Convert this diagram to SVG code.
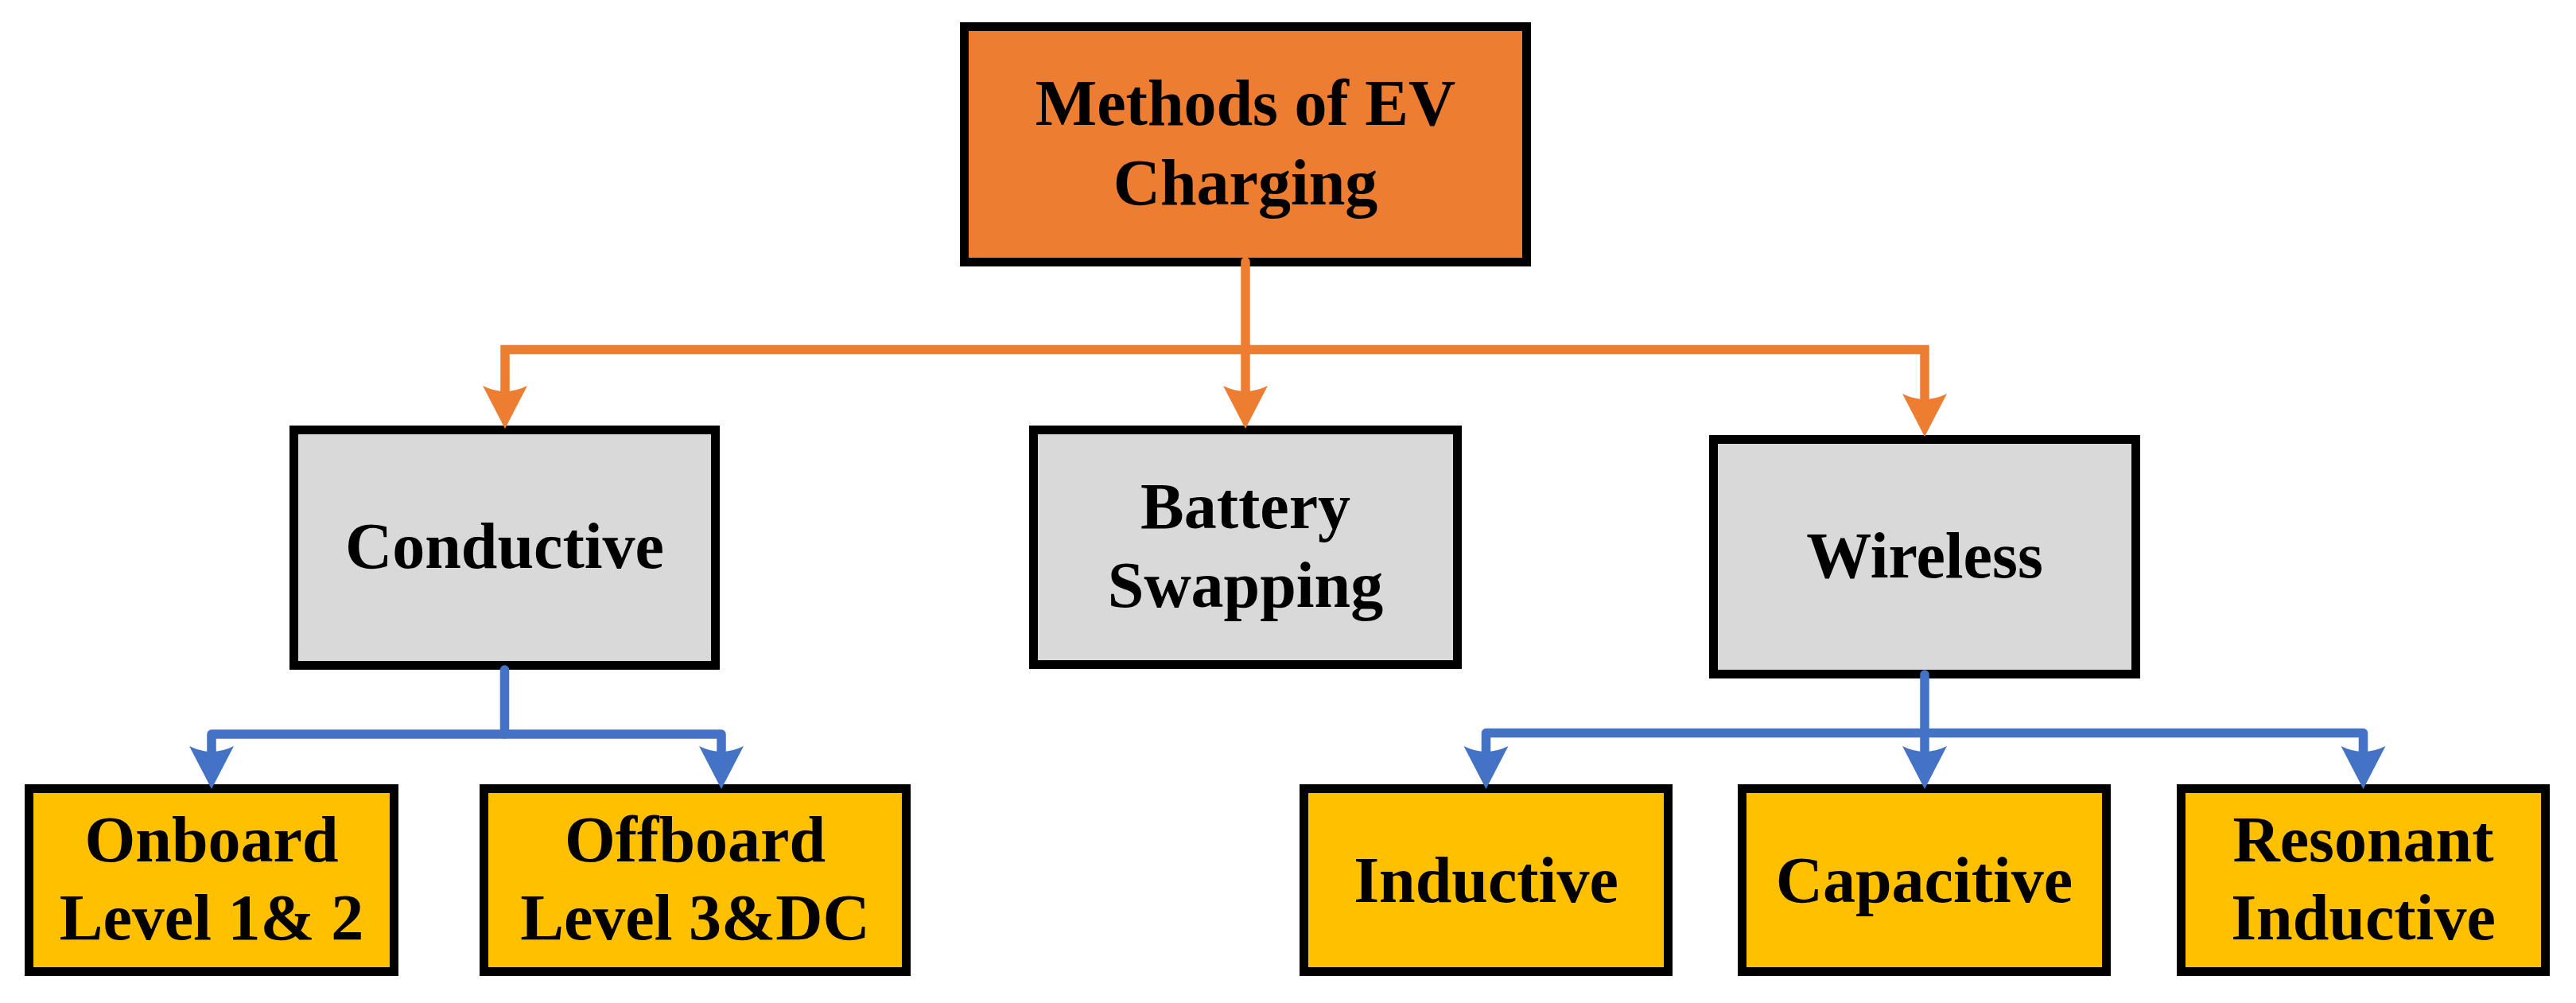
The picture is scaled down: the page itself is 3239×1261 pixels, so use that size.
<svg xmlns="http://www.w3.org/2000/svg" width="3239" height="1261" viewBox="0 0 3239 1261">
<style>
.box{stroke:#000;stroke-width:11}
.root{fill:#ED7D31}
.mid{fill:#D9D9D9}
.leaf{fill:#FFC000}
text{font-family:"Liberation Serif","Times New Roman",serif;font-weight:bold;font-size:82px;fill:#000;text-anchor:middle}
.or{fill:none;stroke:#ED7D31;stroke-width:11.5;stroke-linejoin:miter}
.bl{fill:none;stroke:#4472C4;stroke-width:11.5;stroke-linejoin:round}
</style>
<defs>
<marker id="ao" markerUnits="userSpaceOnUse" markerWidth="60" markerHeight="60" viewBox="0 -30 56 60" refX="9" refY="0" orient="auto-start-reverse">
<path d="M0,-28 L54,0 L0,28 Q7,14 7,0 Q7,-14 0,-28 Z" fill="#ED7D31"/>
</marker>
<marker id="ab" markerUnits="userSpaceOnUse" markerWidth="60" markerHeight="60" viewBox="0 -30 56 60" refX="9" refY="0" orient="auto-start-reverse">
<path d="M0,-28 L54,0 L0,28 Q7,14 7,0 Q7,-14 0,-28 Z" fill="#4472C4"/>
</marker>
</defs>
<g id="n-root"><rect class="box root" x="1212.5" y="33.5" width="707" height="296"/><text x="1566" y="157">Methods of EV</text><text x="1566" y="257">Charging</text></g>
<g id="n-conductive"><rect class="box mid" x="369.5" y="540.5" width="530" height="296"/><text x="634.5" y="714">Conductive</text></g>
<g id="n-battery"><rect class="box mid" x="1299.5" y="540.5" width="533" height="295"/><text x="1566" y="664">Battery</text><text x="1566" y="763">Swapping</text></g>
<g id="n-wireless"><rect class="box mid" x="2154.5" y="552.5" width="531" height="295"/><text x="2420" y="726">Wireless</text></g>
<g id="n-onboard"><rect class="box leaf" x="36.5" y="991.5" width="459" height="230"/><text x="266" y="1083">Onboard</text><text x="266" y="1181">Level 1&amp; 2</text></g>
<g id="n-offboard"><rect class="box leaf" x="608.5" y="991.5" width="531" height="230"/><text x="874" y="1083">Offboard</text><text x="874" y="1181">Level 3&amp;DC</text></g>
<g id="n-inductive"><rect class="box leaf" x="1639.5" y="991.5" width="458" height="230"/><text x="1868.5" y="1134">Inductive</text></g>
<g id="n-capacitive"><rect class="box leaf" x="2190.5" y="991.5" width="458" height="230"/><text x="2419.5" y="1134">Capacitive</text></g>
<g id="n-resonant"><rect class="box leaf" x="2742.5" y="991.5" width="458" height="230"/><text x="2971.5" y="1083">Resonant</text><text x="2971.5" y="1181">Inductive</text></g>
<g id="connectors">
<path class="or" d="M1566,329 V494" stroke-linecap="round" marker-end="url(#ao)"/>
<path class="or" d="M635,494 V439.5 H2420 V504" marker-start="url(#ao)" marker-end="url(#ao)"/>
<path class="bl" d="M634.5,842 V923" stroke-linecap="round"/>
<path class="bl" d="M266,947 V923 H907 V947" marker-start="url(#ab)" marker-end="url(#ab)"/>
<path class="bl" d="M2420,848 V947" stroke-linecap="round" marker-end="url(#ab)"/>
<path class="bl" d="M1868.5,947 V921.5 H2971.5 V947" marker-start="url(#ab)" marker-end="url(#ab)"/>
</g>
</svg>
